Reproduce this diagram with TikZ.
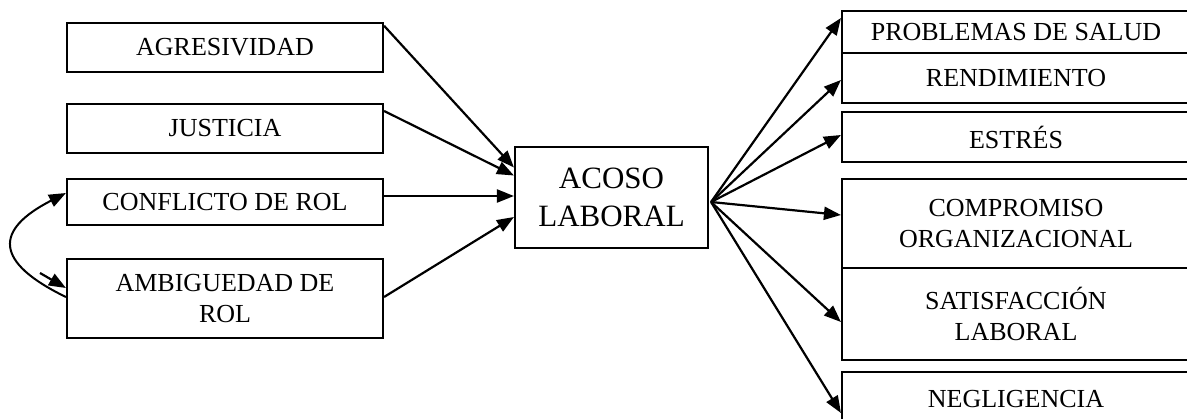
\documentclass[tikz,border=0pt]{standalone}
\usepackage{fontspec}
\setmainfont{Liberation Serif}
\usetikzlibrary{calc,arrows.meta}
\begin{document}
\begin{tikzpicture}[x=1pt,y=-1pt,
  box/.style={draw,line width=2.1pt,inner sep=0pt,align=center,font=\fontsize{26}{30.5}\selectfont},
  lbox/.style={box,minimum width=316pt},
  rbox/.style={box,minimum width=348pt},
  conn/.style={line width=2.2pt,-{Triangle[length=17pt,width=13pt]}},
  curv/.style={line width=2pt}]
\useasboundingbox (0,0) rectangle (1187,418);
% left boxes
\node[lbox,minimum height=49pt] (agr) at (225,47.3) {AGRESIVIDAD};
\node[lbox,minimum height=49pt] (jus) at (225,128.5) {JUSTICIA};
\node[lbox,minimum height=46pt] (con) at (225,202) {CONFLICTO DE ROL};
\node[lbox,minimum height=79pt] (amb) at (225,298.5) {AMBIGUEDAD DE\\ROL};
% centre
\node[box,minimum width=193pt,minimum height=101pt,font=\fontsize{31}{37.3}\selectfont] (aco) at (611.5,197.5) {ACOSO\\LABORAL};
% right boxes
\node[rbox,minimum height=42pt] (pro) at (1016,32) {PROBLEMAS DE SALUD};
\node[rbox,minimum height=50pt] (ren) at (1016,78) {RENDIMIENTO};
\node[rbox,minimum height=50pt] (est) at (1016,137) {ESTRÉS};
\node[rbox,minimum height=89pt] (com) at (1016,223.5) {COMPROMISO\\ORGANIZACIONAL};
\node[rbox,minimum height=92pt] (sat) at (1016,314) {SATISFACCIÓN\\LABORAL};
\node[rbox,minimum height=54pt] (neg) at (1016,399) {NEGLIGENCIA};
% inputs
\draw[conn] ($(agr.north east)+(0,4)$) -- ($(aco.west)+(0,-30)$);
\draw[conn] ($(jus.north east)+(0,8)$) -- ($(aco.west)+(0,-22)$);
\draw[conn] ($(con.east)+(0,-6)$) -- ($(aco.west)+(0,-1.5)$);
\draw[conn] ($(amb.east)+(0,-1.5)$) -- ($(aco.west)+(0,19.5)$);
% outputs
\coordinate (fan) at ($(aco.east)+(2,4.5)$);
\draw[conn] (fan) -- ($(pro.west)+(0,-14)$);
\draw[conn] (fan) -- ($(ren.west)+(0,2)$);
\draw[conn] (fan) -- ($(est.west)+(0,-2)$);
\draw[conn] (fan) -- ($(com.west)+(0,-8.5)$);
\draw[conn] (fan) -- ($(sat.west)+(0,8)$);
\draw[conn] (fan) -- ($(neg.west)+(0,14)$);
% correlation curve
\draw[curv,-{Triangle[length=17pt,width=13pt]}] ($(amb.west)+(0,-1.5)$) .. controls +(-72,-35) and +(-72,37) .. ($(con.west)+(0,-9)$);
\coordinate (sa) at (40,273);
\draw[conn] (sa) -- ($(amb.west)+(0,-10.5)$);
\end{tikzpicture}
\end{document}
